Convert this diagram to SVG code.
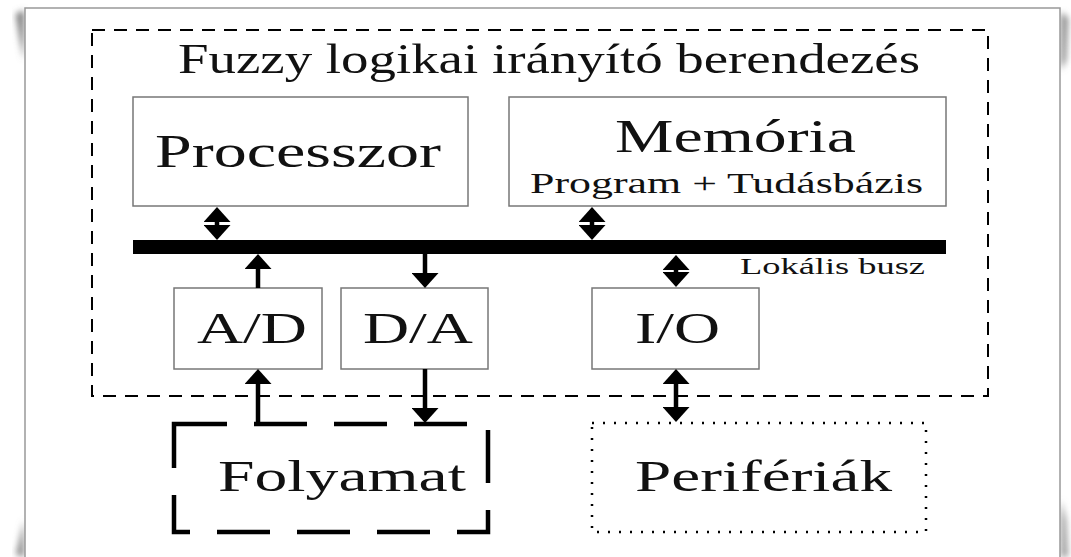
<svg xmlns="http://www.w3.org/2000/svg" width="1071" height="557" viewBox="0 0 1071 557">
<defs>
<style>
.box{fill:#fff;stroke:#777;stroke-width:1.5}
.t{font-family:"Liberation Serif","Times New Roman",serif;fill:#111}
.con{stroke:#000;stroke-width:4.5;fill:none}
</style>
<marker id="ah" viewBox="0 0 15 27" refX="0" refY="13.5" markerWidth="15" markerHeight="27" markerUnits="userSpaceOnUse" orient="auto-start-reverse">
<path d="M0,0 L15,13.5 L0,27 z" fill="#000"/>
</marker>
<filter id="blur" x="-50%" y="-50%" width="200%" height="200%"><feGaussianBlur stdDeviation="3"/></filter>
</defs>
<rect width="1071" height="557" fill="#fff"/>
<g id="page">
<path d="M16,14 L24,10 L24,60 L20,40 z" fill="#777" filter="url(#blur)"/>
<path d="M16,555 L24,520 L24,557 z" fill="#888" filter="url(#blur)"/>
<path d="M1061,12 L1068,18 L1066,60 L1061,70 z" fill="#888" filter="url(#blur)"/>
<path d="M1061,500 L1066,520 L1068,557 L1061,557 z" fill="#999" filter="url(#blur)"/>
<rect x="25" y="8" width="1035" height="560" fill="#fff" stroke="#999" stroke-width="1.5"/>
</g>
<g id="controller">
<rect x="92" y="30" width="896" height="366" fill="none" stroke="#000" stroke-width="2" stroke-dasharray="13 9"/>
<text class="t" x="178" y="73" font-size="42" textLength="742" lengthAdjust="spacingAndGlyphs">Fuzzy logikai irányító berendezés</text>
</g>
<g id="processzor">
<rect class="box" x="133" y="97" width="335" height="109"/>
<text class="t" x="155" y="167" font-size="47" textLength="286" lengthAdjust="spacingAndGlyphs">Processzor</text>
</g>
<g id="memoria">
<rect class="box" x="509" y="97" width="437" height="109"/>
<text class="t" x="615" y="152" font-size="47" textLength="241" lengthAdjust="spacingAndGlyphs">Memória</text>
<text class="t" x="530" y="193" font-size="30" textLength="393" lengthAdjust="spacingAndGlyphs">Program + Tudásbázis</text>
</g>
<g id="busz">
<rect x="133" y="240" width="813" height="14" fill="#000"/>
<text class="t" x="740" y="274" font-size="24" textLength="185" lengthAdjust="spacingAndGlyphs">Lokális busz</text>
</g>
<g id="ad">
<rect class="box" x="174" y="288" width="148" height="81"/>
<text class="t" x="197" y="343" font-size="44" textLength="110" lengthAdjust="spacingAndGlyphs">A/D</text>
</g>
<g id="da">
<rect class="box" x="341" y="288" width="147" height="81"/>
<text class="t" x="363" y="343" font-size="44" textLength="110" lengthAdjust="spacingAndGlyphs">D/A</text>
</g>
<g id="io">
<rect class="box" x="592" y="288" width="167" height="81"/>
<text class="t" x="635" y="343" font-size="44" textLength="85" lengthAdjust="spacingAndGlyphs">I/O</text>
</g>
<g id="folyamat">
<rect x="174" y="424" width="314" height="108" fill="none" stroke="#000" stroke-width="4.5" stroke-dasharray="53 27"/>
<text class="t" x="218" y="491" font-size="44" textLength="248" lengthAdjust="spacingAndGlyphs">Folyamat</text>
</g>
<g id="periferiak">
<rect x="592" y="423" width="334" height="109" fill="none" stroke="#000" stroke-width="2.5" stroke-dasharray="2 9"/>
<text class="t" x="635" y="491" font-size="44" textLength="257" lengthAdjust="spacingAndGlyphs">Perifériák</text>
</g>
<g id="connectors">
<line class="con" x1="217" y1="222" x2="217" y2="225" marker-start="url(#ah)" marker-end="url(#ah)"/>
<line class="con" x1="592" y1="222" x2="592" y2="225" marker-start="url(#ah)" marker-end="url(#ah)"/>
<line class="con" x1="258" y1="288" x2="258" y2="269" marker-end="url(#ah)"/>
<line class="con" x1="425" y1="254" x2="425" y2="273" marker-end="url(#ah)"/>
<line class="con" x1="676" y1="270" x2="676" y2="272" marker-start="url(#ah)" marker-end="url(#ah)"/>
<line class="con" x1="258" y1="426" x2="258" y2="384" marker-end="url(#ah)"/>
<line class="con" x1="425" y1="369" x2="425" y2="408" marker-end="url(#ah)"/>
<line class="con" x1="676" y1="384" x2="676" y2="407" marker-start="url(#ah)" marker-end="url(#ah)"/>
</g>
</svg>
